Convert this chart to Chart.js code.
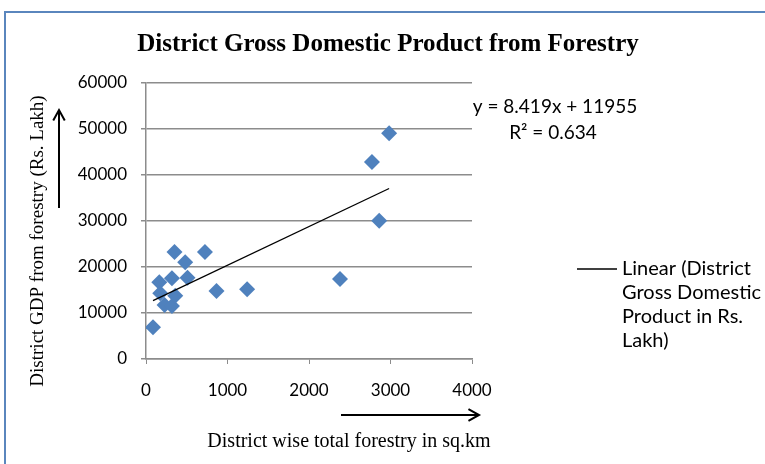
<!DOCTYPE html>
<html>
<head>
<meta charset="utf-8">
<script src="https://cdn.jsdelivr.net/npm/chart.js@4.4.0/dist/chart.umd.min.js"></script>
<style>
  body { margin: 0; background: #fff; }
  #wrap { position: relative; width: 765px; height: 464px; }
</style>
</head>
<body>
<div id="wrap"><canvas id="gdpChart"></canvas></div>
<script>
// District forest area (sq.km) vs district GDP from forestry (Rs. Lakh)
const forestArea = [86, 163, 175, 228, 318, 318, 350, 359, 481, 509, 723, 865, 1241, 2380, 2772, 2861, 2983];
const gdpForestry = [6890, 16670, 14280, 11740, 17540, 11520, 23260, 13760, 21020, 17670, 23260, 14780, 15150, 17390, 42830, 30070, 49070];

// trend line as printed on the chart
const trendSlope = 8.419;
const trendIntercept = 11955;
const trendR2 = 0.634;

const xTicks = [0, 1000, 2000, 3000, 4000];
const yTicks = [0, 10000, 20000, 30000, 40000, 50000, 60000];

const titleText = 'District Gross Domestic Product from Forestry';
const yTitleText = 'District GDP from forestry (Rs. Lakh)';
const xTitleText = 'District wise total forestry in sq.km';
const legendLines = ['Linear (District', 'Gross Domestic', 'Product in Rs.', 'Lakh)'];

const points = forestArea.map((x, i) => ({ x: x, y: gdpForestry[i] }));
const xMin = Math.min(...forestArea);
const xMax = Math.max(...forestArea);
const trendPoints = [
    { x: xMin, y: trendSlope * xMin + trendIntercept },
    { x: xMax, y: trendSlope * xMax + trendIntercept }
];

const TICK_FONT = { family: 'Lato', size: 17 };
const GRID_GREY = '#8c8c8c';

function drawArrow(ctx, x1, y1, x2, y2) {
    const ang = Math.atan2(y2 - y1, x2 - x1);
    const head = 12;
    ctx.beginPath();
    ctx.moveTo(x1, y1);
    ctx.lineTo(x2, y2);
    ctx.moveTo(x2 - head * Math.cos(ang - 0.5), y2 - head * Math.sin(ang - 0.5));
    ctx.lineTo(x2, y2);
    ctx.lineTo(x2 - head * Math.cos(ang + 0.5), y2 - head * Math.sin(ang + 0.5));
    ctx.stroke();
}

const decorPlugin = {
    id: 'decorPlugin',
    afterDraw(chart) {
        const ctx = chart.ctx;
        ctx.save();

        // outer chart frame
        ctx.strokeStyle = '#5a86bd';
        ctx.lineWidth = 2;
        ctx.strokeRect(5, 12, 800, 500);

        ctx.fillStyle = '#000';

        // title
        ctx.font = 'bold 25px "Liberation Serif"';
        ctx.textAlign = 'center';
        ctx.textBaseline = 'middle';
        ctx.fillText(titleText, 388, 45);

        // y axis title + arrow
        ctx.save();
        ctx.translate(38, 241);
        ctx.rotate(-Math.PI / 2);
        ctx.font = '19px "Liberation Serif"';
        ctx.fillText(yTitleText, 0, 0);
        ctx.restore();

        ctx.strokeStyle = '#000';
        ctx.lineWidth = 2;
        drawArrow(ctx, 59, 208, 59, 110);

        // x axis title + arrow
        ctx.font = '20px "Liberation Serif"';
        ctx.fillText(xTitleText, 349, 442);
        drawArrow(ctx, 341, 415, 479, 415);

        // trend equation
        ctx.font = '19px Lato';
        ctx.fillText('y = ' + trendSlope + 'x + ' + trendIntercept, 555, 107);
        ctx.fillText('R\u00B2 = ' + trendR2, 553, 133);

        // legend
        ctx.lineWidth = 1.3;
        ctx.beginPath();
        ctx.moveTo(577, 269);
        ctx.lineTo(617, 269);
        ctx.stroke();
        ctx.font = '20px Lato';
        ctx.textAlign = 'left';
        legendLines.forEach((t, i) => ctx.fillText(t, 622, 269 + i * 23.7));

        ctx.restore();
    }
};

new Chart(document.getElementById('gdpChart'), {
    type: 'scatter',
    data: {
        datasets: [
            {
                label: 'District Gross Domestic Product in Rs. Lakh',
                data: points,
                pointStyle: 'rectRot',
                pointRadius: 8,
                pointHoverRadius: 8,
                backgroundColor: '#4f81bd',
                borderColor: '#4f81bd',
                borderWidth: 0,
                order: 2
            },
            {
                label: 'Linear (District Gross Domestic Product in Rs. Lakh)',
                type: 'line',
                data: trendPoints,
                borderColor: '#000',
                borderWidth: 1.3,
                pointRadius: 0,
                fill: false,
                order: 1
            }
        ]
    },
    options: {
        responsive: true,
        maintainAspectRatio: false,
        animation: false,
        layout: { padding: { left: 0, right: 293, top: 83, bottom: 65 } },
        plugins: {
            legend: { display: false },
            tooltip: { enabled: false },
            title: { display: false }
        },
        scales: {
            x: {
                type: 'linear',
                min: xTicks[0],
                max: xTicks[xTicks.length - 1],
                afterBuildTicks: (scale) => { scale.ticks = xTicks.map(v => ({ value: v })); },
                afterFit: (scale) => { scale.height = 40; },
                ticks: { font: TICK_FONT, color: '#000', padding: 16, maxRotation: 0, callback: (v) => String(v) },
                grid: { drawOnChartArea: false, drawTicks: true, tickLength: 5, color: GRID_GREY },
                border: { color: GRID_GREY, width: 1.5 }
            },
            y: {
                min: yTicks[0],
                max: yTicks[yTicks.length - 1],
                afterBuildTicks: (scale) => { scale.ticks = yTicks.map(v => ({ value: v })); },
                afterFit: (scale) => { scale.width = 146; },
                ticks: { font: TICK_FONT, color: '#000', padding: 14, callback: (v) => String(v) },
                grid: { color: GRID_GREY, lineWidth: 1.5, drawTicks: true, tickLength: 5 },
                border: { color: GRID_GREY, width: 1.5 }
            }
        }
    },
    plugins: [decorPlugin]
});
</script>
</body>
</html>
